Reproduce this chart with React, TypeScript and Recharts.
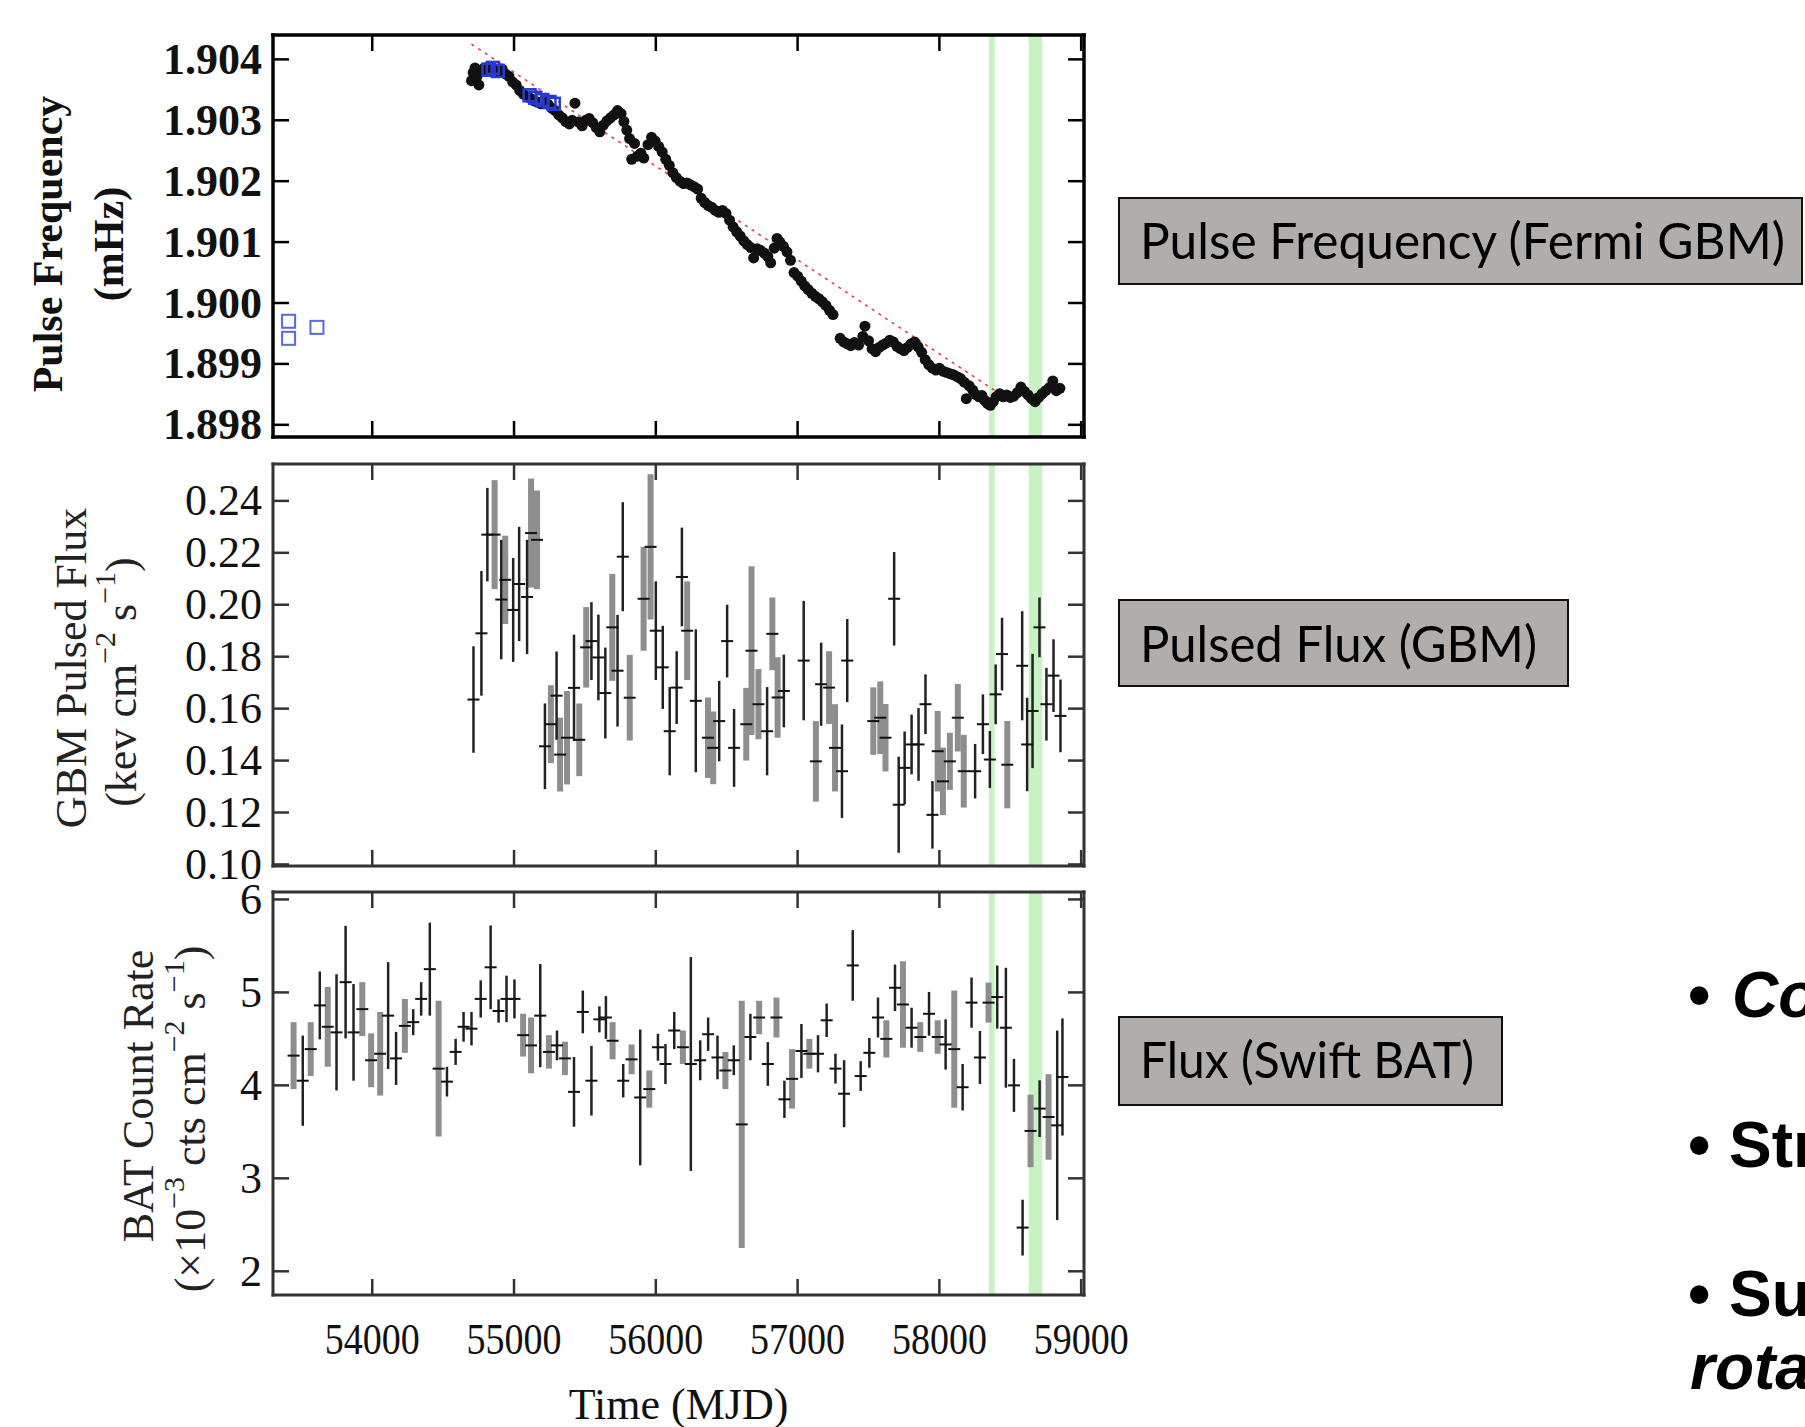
import React from 'react';
import { ComposedChart, Scatter, XAxis, YAxis, ReferenceArea, ReferenceLine, ErrorBar } from 'recharts';

// ---------------- DATA ----------------
const mjdTicks = [54000, 55000, 56000, 57000, 58000, 59000];
const mjdDomain = [53300, 59020];

const freqTicks = [1.898, 1.899, 1.9, 1.901, 1.902, 1.903, 1.904];
const freqDomain = [1.8978, 1.9044];
const pulsedTicks = [0.1, 0.12, 0.14, 0.16, 0.18, 0.2, 0.22, 0.24];
const pulsedDomain = [0.0994, 0.2542];
const batTicks = [2, 3, 4, 5, 6];
const batDomain = [1.745, 6.08];

// highlighted intervals (MJD)
const bandA = [58350, 58390];
const bandB = [58630, 58725];

// spin-down trend (red dotted line) end points [MJD, mHz]
const trendLine = [[54700, 1.90425], [58400, 1.89855]];

// Fermi GBM pulse frequency [MJD, mHz]
const freqGbm = [
  [54700,1.90365],[54712,1.90378],[54725,1.90386],[54738,1.90372],[54752,1.90358],[54770,1.9038],[54790,1.90386],[54815,1.90384],
  [54840,1.90388],[54865,1.90382],[54890,1.90379],[54915,1.90384],[54940,1.90376],[54965,1.90372],[54990,1.90363],[55015,1.90358],
  [55040,1.90349],[55065,1.90343],[55090,1.90339],[55115,1.90336],[55140,1.90332],[55165,1.9033],[55190,1.90327],[55215,1.90331],
  [55240,1.90326],[55265,1.9032],[55290,1.90316],[55315,1.90309],[55340,1.90304],[55365,1.90298],[55390,1.90294],[55410,1.903],
  [55430,1.90328],[55455,1.90297],[55480,1.90291],[55505,1.903],[55530,1.90303],[55555,1.90296],[55580,1.90288],[55605,1.90281],
  [55630,1.90292],[55655,1.90299],[55680,1.90304],[55705,1.90309],[55730,1.90316],[55755,1.90311],[55775,1.90298],[55795,1.90284],
  [55815,1.9027],[55830,1.90236],[55850,1.90262],[55870,1.90241],[55895,1.90246],[55915,1.90238],[55945,1.9026],[55970,1.90272],
  [55995,1.90266],[56020,1.90257],[56045,1.90248],[56070,1.90236],[56095,1.90226],[56120,1.90214],[56145,1.90206],[56170,1.902],
  [56195,1.90196],[56220,1.90197],[56245,1.90194],[56270,1.90191],[56295,1.90187],[56320,1.90172],[56345,1.90165],[56370,1.9016],
  [56395,1.90157],[56420,1.90152],[56445,1.90149],[56470,1.90152],[56495,1.90147],[56520,1.90136],[56545,1.90125],[56570,1.90117],
  [56595,1.9011],[56620,1.90102],[56645,1.90096],[56670,1.90091],[56690,1.90074],[56715,1.90089],[56740,1.90086],[56765,1.90082],
  [56790,1.90076],[56810,1.90066],[56835,1.9009],[56855,1.90106],[56875,1.901],[56900,1.90093],[56925,1.90084],[56950,1.9007],
  [56975,1.9005],[57000,1.90044],[57025,1.90036],[57050,1.90028],[57075,1.90022],[57100,1.90016],[57125,1.90011],[57150,1.90007],
  [57175,1.90002],[57200,1.89996],[57225,1.89988],[57250,1.89981],[57300,1.89942],[57325,1.89936],[57350,1.89933],[57375,1.8993],
  [57400,1.89935],[57430,1.89931],[57460,1.89945],[57475,1.89962],[57500,1.89938],[57525,1.89925],[57550,1.8992],[57575,1.89927],
  [57600,1.89931],[57625,1.89934],[57650,1.89939],[57675,1.89936],[57700,1.89929],[57725,1.89925],[57750,1.89922],[57775,1.89927],
  [57800,1.89933],[57825,1.89936],[57850,1.89928],[57875,1.89919],[57900,1.89907],[57925,1.89899],[57950,1.89893],[57975,1.8989],
  [58000,1.89893],[58025,1.89888],[58050,1.89886],[58075,1.89884],[58100,1.89882],[58125,1.89879],[58150,1.89876],[58175,1.8987],
  [58190,1.89843],[58210,1.89864],[58235,1.89857],[58255,1.8985],[58280,1.89846],[58300,1.89848],[58320,1.8984],[58340,1.89835],
  [58360,1.89832],[58380,1.89838],[58400,1.89846],[58425,1.89851],[58450,1.89846],[58475,1.89849],[58500,1.89845],[58525,1.89847],
  [58550,1.89853],[58575,1.89862],[58600,1.89855],[58625,1.89849],[58650,1.89843],[58675,1.89838],[58700,1.89845],[58725,1.89851],
  [58750,1.89856],[58775,1.89861],[58800,1.89872],[58825,1.89856],[58850,1.8986],
];
// other pulse frequency measurements (blue squares)
const freqBlue = [[54820,1.90383],[54850,1.90386],[54885,1.90381],[55110,1.90341],[55150,1.90337],[55200,1.90333],[55250,1.9033],[55280,1.90327]];
const freqEarly = [[53410,1.8997],[53410,1.89942],[53610,1.8996]];

// GBM pulsed flux [MJD, flux, error]
const pulsedBlack = [
  [54714,0.1635,0.0205],[54770,0.189,0.024],[54812,0.227,0.018],[54910,0.202,0.023],[54994,0.198,0.02],[55036,0.208,0.022],
  [55092,0.203,0.022],[55218,0.1455,0.0165],[55300,0.165,0.017],[55423,0.168,0.0205],[55546,0.186,0.015],[55595,0.1797,0.0165],
  [55644,0.166,0.0175],[55730,0.1746,0.0215],[55767,0.2185,0.021],[56000,0.19,0.019],[56049,0.1759,0.016],[56098,0.1513,0.017],
  [56147,0.1681,0.014],[56184,0.2107,0.019],[56282,0.163,0.0275],[56447,0.1552,0.0155],[56503,0.186,0.014],[56552,0.1449,0.015],
  [56785,0.1513,0.017],[56903,0.1668,0.014],[57043,0.1785,0.023],[57166,0.1694,0.016],[57313,0.1359,0.018],[57350,0.1785,0.016],
  [57681,0.2023,0.018],[57713,0.123,0.0185],[57755,0.1372,0.014],[57804,0.1462,0.0115],[57853,0.1462,0.014],[57902,0.1617,0.0115],
  [57951,0.1191,0.013],[58252,0.1359,0.0105],[58307,0.154,0.0115],[58356,0.1404,0.011],[58397,0.1655,0.0115],[58442,0.181,0.014],
  [58584,0.1765,0.021],[58619,0.1462,0.018],[58657,0.1591,0.022],[58706,0.1913,0.0115],[58755,0.1617,0.014],[58805,0.1727,0.014],
  [58854,0.1572,0.014],
];
const pulsedGrey = [
  [54863,0.227,0.021],[54938,0.2096,0.017],[55120,0.2276,0.021],[55162,0.225,0.019],[55260,0.154,0.015],[55325,0.1423,0.0142],
  [55374,0.1488,0.018],[55460,0.148,0.014],[55509,0.1836,0.0155],[55693,0.1913,0.0206],[55816,0.1642,0.0165],[55914,0.2023,0.02],
  [55963,0.2223,0.028],[56221,0.19,0.019],[56368,0.1488,0.0155],[56405,0.1449,0.014],[56638,0.154,0.014],[56675,0.1823,0.0325],
  [56724,0.1617,0.0135],[56822,0.1888,0.014],[56859,0.1643,0.0155],[57129,0.1397,0.0155],[57222,0.1681,0.014],[57264,0.1449,0.0168],
  [57534,0.1552,0.013],[57583,0.1565,0.014],[57620,0.1488,0.013],[57988,0.1436,0.0155],[58025,0.132,0.013],[58074,0.1397,0.011],
  [58130,0.1565,0.013],[58172,0.1359,0.014],[58479,0.1384,0.0168],
];

// Swift BAT count rate [MJD, rate, error]
const batBlack = [
  [53510,4.05,0.485],[53630,4.86,0.365],[53748,4.57,0.625],[53812,5.11,0.605],[53868,4.57,0.52],[54112,4.75,0.575],[54168,4.29,0.285],
  [54289,4.68,0.14],[54345,4.93,0.18],[54406,5.25,0.5],[54527,4.04,0.16],[54588,4.36,0.14],[54644,4.63,0.16],[54700,4.61,0.18],
  [54765,4.93,0.2],[54835,5.27,0.45],[54891,4.8,0.125],[54947,4.93,0.25],[55003,4.93,0.21],[55185,4.75,0.555],[55303,4.43,0.16],
  [55423,3.93,0.375],[55485,4.79,0.23],[55546,4.05,0.375],[55602,4.71,0.14],[55648,4.73,0.23],[55770,4.05,0.18],[55890,3.87,0.73],
  [56015,4.41,0.145],[56068,4.23,0.215],[56130,4.59,0.2],[56247,4.23,1.15],[56313,4.27,0.215],[56369,4.55,0.18],[56435,4.3,0.235],
  [56550,4.27,0.16],[56667,4.52,0.25],[56790,4.23,0.235],[56907,3.85,0.2],[57027,4.37,0.29],[57144,4.34,0.2],[57205,4.7,0.18],
  [57267,4.18,0.16],[57328,3.91,0.36],[57389,5.29,0.38],[57445,4.1,0.16],[57506,4.35,0.16],[57567,4.73,0.215],[57687,5.05,0.25],
  [57804,4.62,0.215],[57927,4.77,0.235],[58044,4.44,0.27],[58164,3.98,0.25],[58227,4.89,0.27],[58286,4.3,0.285],[58408,4.95,0.34],
  [58469,4.62,0.645],[58526,4.0,0.285],[58587,2.47,0.3],[58707,3.75,0.305],[58831,3.57,1.02],[58868,4.09,0.63],
];
const batGrey = [
  [53445,4.32,0.36],[53566,4.39,0.29],[53686,4.63,0.43],[53930,4.82,0.29],[53992,4.27,0.29],[54056,4.34,0.45],[54230,4.64,0.29],
  [54468,4.18,0.73],[55064,4.54,0.23],[55120,4.43,0.3],[55246,4.36,0.18],[55359,4.29,0.18],[55695,4.48,0.2],[55829,4.28,0.16],
  [55954,3.96,0.2],[56191,4.41,0.18],[56491,4.16,0.2],[56606,3.58,1.33],[56729,4.73,0.18],[56851,4.73,0.215],[56961,4.07,0.32],
  [57083,4.34,0.16],[57626,4.5,0.2],[57743,4.87,0.465],[57865,4.52,0.16],[57988,4.52,0.18],[58105,4.39,0.63],[58347,4.89,0.215],
  [58643,3.51,0.39],[58770,3.66,0.46],
];

// annotation texts
const boxLabels = ['Pulse Frequency (Fermi GBM)', 'Pulsed Flux (GBM)', 'Flux (Swift BAT)'];
const bulletLines = ['Co', 'Str', 'Su', 'rota'];

// ---------------- LAYOUT / STYLE ----------------
const SERIF = "'Liberation Serif', 'Times New Roman', serif";
const CHART_W = 1160;
const RIGHT_M = 75;
const MT = 20;
const TL = 16;
const P1 = { top: 35, h: 402, mb: 20 };
const P2 = { top: 464, h: 402, mb: 36 };
const P3 = { top: 892, h: 403, mb: 140 };

const toPts = (arr: number[][]) => arr.map((d) => ({ x: d[0], y: d[1] }));
const toErr = (arr: number[][]) => arr.map((d) => ({ x: d[0], y: d[1], e: d[2] }));

const mkLeftTick = (fmt: (v: number) => string, bold: boolean, color: string, tw: number) => (p: any) => (
  <g>
    <line x1={p.x} x2={p.x + TL} y1={p.y} y2={p.y} stroke={color} strokeWidth={tw} />
    <text x={p.x - 11} y={p.y} textAnchor="end" dominantBaseline="central" fontFamily={SERIF} fontSize={44}
      fontWeight={bold ? 700 : 400} fill="#111">{fmt(p.payload.value)}</text>
  </g>
);
const mkRightTick = (color: string, tw: number) => (p: any) => (
  <line x1={p.x - TL} x2={p.x} y1={p.y} y2={p.y} stroke={color} strokeWidth={tw} />
);
const mkTopTick = (color: string, tw: number) => (p: any) => (
  <line x1={p.x} x2={p.x} y1={p.y} y2={p.y + TL} stroke={color} strokeWidth={tw} />
);
const mkBottomTick = (color: string, tw: number, labeled: boolean) => (p: any) => (
  <g>
    <line x1={p.x} x2={p.x} y1={p.y} y2={p.y - TL} stroke={color} strokeWidth={tw} />
    {labeled ? (
      <text x={p.x} y={p.y + 59} textAnchor="middle" fontFamily={SERIF} fontSize={44} fill="#111"
        textLength={95} lengthAdjust="spacingAndGlyphs">{p.payload.value}</text>
    ) : null}
  </g>
);

function axes(yDomain: number[], yTicks: number[], fmt: (v: number) => string, bold: boolean, color: string,
  fw: number, xLabels: boolean, yTitle: any, xTitle: any) {
  const line = { stroke: color, strokeWidth: fw, strokeLinecap: 'square' };
  const tw = 2.5;
  return [
    <XAxis key="xb" xAxisId="b" dataKey="x" type="number" orientation="bottom" domain={mjdDomain} ticks={mjdTicks}
      interval={0} allowDataOverflow height={1} tickSize={0} tickMargin={0} tickLine={false} axisLine={line}
      tick={mkBottomTick(color, tw, xLabels)} label={xTitle} />,
    <XAxis key="xt" xAxisId="t" dataKey="x" type="number" orientation="top" domain={mjdDomain} ticks={mjdTicks}
      interval={0} allowDataOverflow height={1} tickSize={0} tickMargin={0} tickLine={false} axisLine={line}
      tick={mkTopTick(color, tw)} />,
    <YAxis key="yl" yAxisId="l" dataKey="y" type="number" orientation="left" domain={yDomain} ticks={yTicks}
      interval={0} allowDataOverflow width={273} tickSize={0} tickMargin={0} tickLine={false} axisLine={line}
      tick={mkLeftTick(fmt, bold, color, tw)} label={yTitle} />,
    <YAxis key="yr" yAxisId="r" dataKey="y" type="number" orientation="right" domain={yDomain} ticks={yTicks}
      interval={0} allowDataOverflow width={1} tickSize={0} tickMargin={0} tickLine={false} axisLine={line}
      tick={mkRightTick(color, tw)} />,
  ];
}

function bands() {
  return [
    <ReferenceArea key="ba" xAxisId="b" yAxisId="l" x1={bandA[0]} x2={bandA[1]} fill="#b4eeac" fillOpacity={0.75} stroke="none" />,
    <ReferenceArea key="bb" xAxisId="b" yAxisId="l" x1={bandB[0]} x2={bandB[1]} fill="#b4eeac" fillOpacity={0.75} stroke="none" />,
  ];
}

const dotShape = (p: any) => <circle cx={p.cx} cy={p.cy} r={5.5} fill="#111" />;
const blueSq = (p: any) => (
  <rect x={p.cx - 6} y={p.cy - 6} width={12} height={12} fill="none" stroke="#2a3ad0" strokeWidth={2.5} />
);
const openSq = (p: any) => (
  <rect x={p.cx - 6.5} y={p.cy - 6.5} width={13} height={13} fill="#fff" stroke="#5b66e6" strokeWidth={2} />
);
const dash = (p: any) => (
  <line x1={p.cx - 6} x2={p.cx + 6} y1={p.cy} y2={p.cy} stroke="#111" strokeWidth={2} />
);

const rot = (cx: number, cy: number) => `rotate(-90 ${cx} ${cy})`;

function Title1() {
  return (
    <g fontFamily={SERIF} fontSize={42} fontWeight={700} fill="#111">
      <text x={48} y={229} transform={rot(48, 229)} textAnchor="middle" dominantBaseline="central">Pulse Frequency</text>
      <text x={109} y={229} transform={rot(109, 229)} textAnchor="middle" dominantBaseline="central">(mHz)</text>
    </g>
  );
}
function Title2() {
  return (
    <g fontFamily={SERIF} fontSize={44} fill="#222">
      <text x={71} y={224} transform={rot(71, 224)} textAnchor="middle" dominantBaseline="central">GBM Pulsed Flux</text>
      <text x={121} y={238} transform={rot(121, 238)} textAnchor="middle" dominantBaseline="central">
        (kev cm<tspan fontSize={30} dy={-17}>−2</tspan><tspan dy={17}> s</tspan><tspan fontSize={30} dy={-17}>−1</tspan><tspan dy={17}>)</tspan>
      </text>
    </g>
  );
}
function Title3() {
  return (
    <g fontFamily={SERIF} fontSize={44} fill="#222">
      <text x={138} y={224} transform={rot(138, 224)} textAnchor="middle" dominantBaseline="central">BAT Count Rate</text>
      <text x={190} y={247} transform={rot(190, 247)} textAnchor="middle" dominantBaseline="central">
        (×10<tspan fontSize={30} dy={-17}>−3</tspan><tspan dy={17}> cts cm</tspan><tspan fontSize={30} dy={-17}>−2</tspan><tspan dy={17}> s</tspan><tspan fontSize={30} dy={-17}>−1</tspan><tspan dy={17}>)</tspan>
      </text>
    </g>
  );
}
function TimeTitle() {
  return (
    <text x={678.5} y={532} textAnchor="middle" dominantBaseline="central" fontFamily={SERIF} fontSize={44} fill="#111">
      Time (MJD)
    </text>
  );
}

const f3 = (v: number) => v.toFixed(3);
const f2 = (v: number) => v.toFixed(2);
const f0 = (v: number) => String(v);

export default function App() {
  return (
    <div style={{ position: 'absolute', left: 0, top: 0, width: 1805, height: 1427, background: '#fff', overflow: 'hidden' }}>
      {/* Panel 1: pulse frequency */}
      <div style={{ position: 'absolute', left: 0, top: P1.top - MT }}>
        <ComposedChart width={CHART_W} height={MT + P1.h + P1.mb}
          margin={{ top: MT - 1, right: RIGHT_M, bottom: P1.mb - 1, left: 0 }}>
          {axes(freqDomain, freqTicks, f3, true, '#000', 3.5, false, <Title1 />, undefined)}
          {bands()}
          <ReferenceLine xAxisId="b" yAxisId="l" ifOverflow="visible"
            segment={[{ x: trendLine[0][0], y: trendLine[0][1] }, { x: trendLine[1][0], y: trendLine[1][1] }]}
            stroke="#e03a3a" strokeWidth={1.5} strokeDasharray="3 5" />
          <Scatter xAxisId="b" yAxisId="l" data={toPts(freqGbm)} dataKey="y" shape={dotShape} isAnimationActive={false} />
          <Scatter xAxisId="b" yAxisId="l" data={toPts(freqBlue)} dataKey="y" shape={blueSq} isAnimationActive={false} />
          <Scatter xAxisId="b" yAxisId="l" data={toPts(freqEarly)} dataKey="y" shape={openSq} isAnimationActive={false} />
        </ComposedChart>
      </div>

      {/* Panel 2: GBM pulsed flux */}
      <div style={{ position: 'absolute', left: 0, top: P2.top - MT }}>
        <ComposedChart width={CHART_W} height={MT + P2.h + P2.mb}
          margin={{ top: MT - 1, right: RIGHT_M, bottom: P2.mb - 1, left: 0 }}>
          {axes(pulsedDomain, pulsedTicks, f2, false, '#333', 3, false, <Title2 />, undefined)}
          {bands()}
          <Scatter xAxisId="b" yAxisId="l" data={toErr(pulsedGrey)} dataKey="y" shape={dash} isAnimationActive={false}>
            <ErrorBar dataKey="e" direction="y" width={0} stroke="#8e8e8e" strokeWidth={6} />
          </Scatter>
          <Scatter xAxisId="b" yAxisId="l" data={toErr(pulsedBlack)} dataKey="y" shape={dash} isAnimationActive={false}>
            <ErrorBar dataKey="e" direction="y" width={0} stroke="#222" strokeWidth={2.5} />
          </Scatter>
        </ComposedChart>
      </div>

      {/* Panel 3: BAT count rate */}
      <div style={{ position: 'absolute', left: 0, top: P3.top - MT }}>
        <ComposedChart width={CHART_W} height={MT + P3.h + P3.mb}
          margin={{ top: MT - 1, right: RIGHT_M, bottom: P3.mb - 1, left: 0 }}>
          {axes(batDomain, batTicks, f0, false, '#333', 3, true, <Title3 />, <TimeTitle />)}
          {bands()}
          <Scatter xAxisId="b" yAxisId="l" data={toErr(batGrey)} dataKey="y" shape={dash} isAnimationActive={false}>
            <ErrorBar dataKey="e" direction="y" width={0} stroke="#8e8e8e" strokeWidth={6} />
          </Scatter>
          <Scatter xAxisId="b" yAxisId="l" data={toErr(batBlack)} dataKey="y" shape={dash} isAnimationActive={false}>
            <ErrorBar dataKey="e" direction="y" width={0} stroke="#222" strokeWidth={2.5} />
          </Scatter>
        </ComposedChart>
      </div>

      {/* Annotation boxes and bullet text */}
      <svg width={1805} height={1427} style={{ position: 'absolute', left: 0, top: 0, pointerEvents: 'none' }}>
        <g fontFamily="Lato, 'Open Sans', sans-serif" fontSize={50} fill="#000">
          <rect x={1119} y={198} width={683} height={86} fill="#b0adab" stroke="#111" strokeWidth={2} />
          <text x={1140} y={259} textLength={645} lengthAdjust="spacingAndGlyphs">{boxLabels[0]}</text>
          <rect x={1119} y={600} width={449} height={86} fill="#b0adab" stroke="#111" strokeWidth={2} />
          <text x={1140} y={662} textLength={397} lengthAdjust="spacingAndGlyphs">{boxLabels[1]}</text>
          <rect x={1119} y={1017} width={383} height={88} fill="#b0adab" stroke="#111" strokeWidth={2} />
          <text x={1140} y={1078} textLength={334} lengthAdjust="spacingAndGlyphs">{boxLabels[2]}</text>
        </g>
        <g fontFamily="'Liberation Sans', Arial, sans-serif" fontSize={64} fontWeight={700} fill="#000">
          <text x={1688} y={1017}>•</text>
          <text x={1732} y={1017} fontStyle="italic">{bulletLines[0]}</text>
          <text x={1688} y={1167}>•</text>
          <text x={1729} y={1167}>{bulletLines[1]}</text>
          <text x={1688} y={1316}>•</text>
          <text x={1729} y={1316}>{bulletLines[2]}</text>
          <text x={1690} y={1389} fontStyle="italic">{bulletLines[3]}</text>
        </g>
      </svg>
    </div>
  );
}
